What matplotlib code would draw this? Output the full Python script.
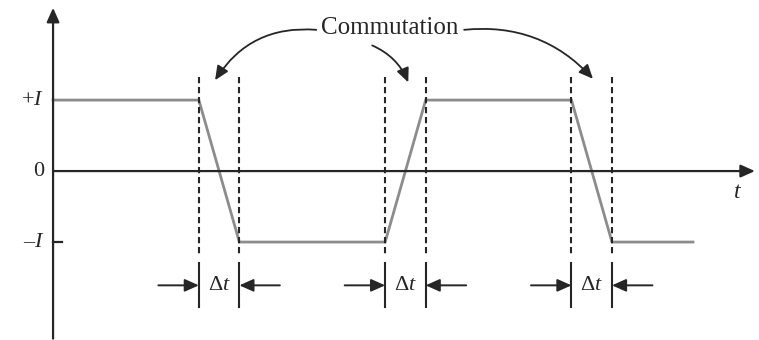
import matplotlib
matplotlib.use("Agg")
import matplotlib.pyplot as plt

# waveform of the commutated current, time in units of the commutation interval
t_pts = [0.0, 3.6, 4.6, 8.2, 9.2, 12.8, 13.8, 15.8]
i_pts = [1, 1, -1, -1, 1, 1, -1, -1]
comm_starts = [3.6, 8.2, 12.8]
DT = 1.0
level_labels = ["+$I$", "0", "\u2013$I$"]
level_vals = [1, 0, -1]

INK = "#262626"
WAVE = "#8c8c8c"

plt.rcParams.update({"font.family": ["Liberation Serif", "DejaVu Serif"],
                     "mathtext.fontset": "custom",
                     "mathtext.it": "Liberation Serif:italic",
                     "mathtext.rm": "Liberation Serif"})

fig = plt.figure(figsize=(7.59, 3.40), dpi=100)
ax = fig.add_axes([0, 0, 1, 1])
ax.set_xlim(-1.31, 17.43)
ax.set_ylim(-2.38, 2.41)
ax.axis("off")

arrow_kw = dict(arrowstyle="-|>,head_length=0.85,head_width=0.38",
                color=INK, lw=1.6, shrinkA=0, shrinkB=0)

# axes with arrowheads
ax.annotate("", xy=(0, 2.30), xytext=(0, -2.36), arrowprops=arrow_kw)
ax.annotate("", xy=(17.33, 0), xytext=(0, 0), arrowprops=arrow_kw)
ax.plot([0, 0.22], [-1, -1], color=INK, lw=1.6)

# current waveform
ax.plot(t_pts, i_pts, color=WAVE, lw=2.0, solid_joinstyle="miter")

# commutation interval markers
for t0 in comm_starts:
    for tx in (t0, t0 + DT):
        ax.plot([tx, tx], [1.32, -1.18], color=INK, lw=1.5, ls=(0, (3.0, 1.8)))
        ax.plot([tx, tx], [-1.30, -1.92], color=INK, lw=1.5)
    ax.annotate("", xy=(t0, -1.61), xytext=(t0 - DT, -1.61),
                arrowprops=dict(arrow_kw, lw=1.4))
    ax.annotate("", xy=(t0 + DT, -1.61), xytext=(t0 + 2 * DT, -1.61),
                arrowprops=dict(arrow_kw, lw=1.4))
    ax.text(t0 + DT / 2, -1.61, r"$\Delta t$", ha="center", va="center",
            fontsize=16, color=INK)

# level labels
for lab, v in zip(level_labels, level_vals):
    ax.text(-0.22, v, lab, ha="right", va="center", fontsize=16, color=INK)
ax.text(16.9, -0.30, "$t$", ha="center", va="center", fontsize=17, color=INK)

# commutation callout
ax.text(8.32, 2.01, "Commutation", ha="center", va="center",
        fontsize=18, color=INK)
curve_kw = dict(arrowstyle="-|>,head_length=0.85,head_width=0.38",
                color=INK, lw=1.3, shrinkA=0, shrinkB=0)
ax.annotate("", xy=(4.0, 1.28), xytext=(6.5, 1.99),
            arrowprops=dict(curve_kw, connectionstyle="arc3,rad=0.3"))
ax.annotate("", xy=(8.77, 1.25), xytext=(7.88, 1.77),
            arrowprops=dict(curve_kw, connectionstyle="arc3,rad=-0.2"))
ax.annotate("", xy=(13.33, 1.30), xytext=(10.15, 1.99),
            arrowprops=dict(curve_kw, connectionstyle="arc3,rad=-0.25"))

fig.savefig("out.png", dpi=100)
